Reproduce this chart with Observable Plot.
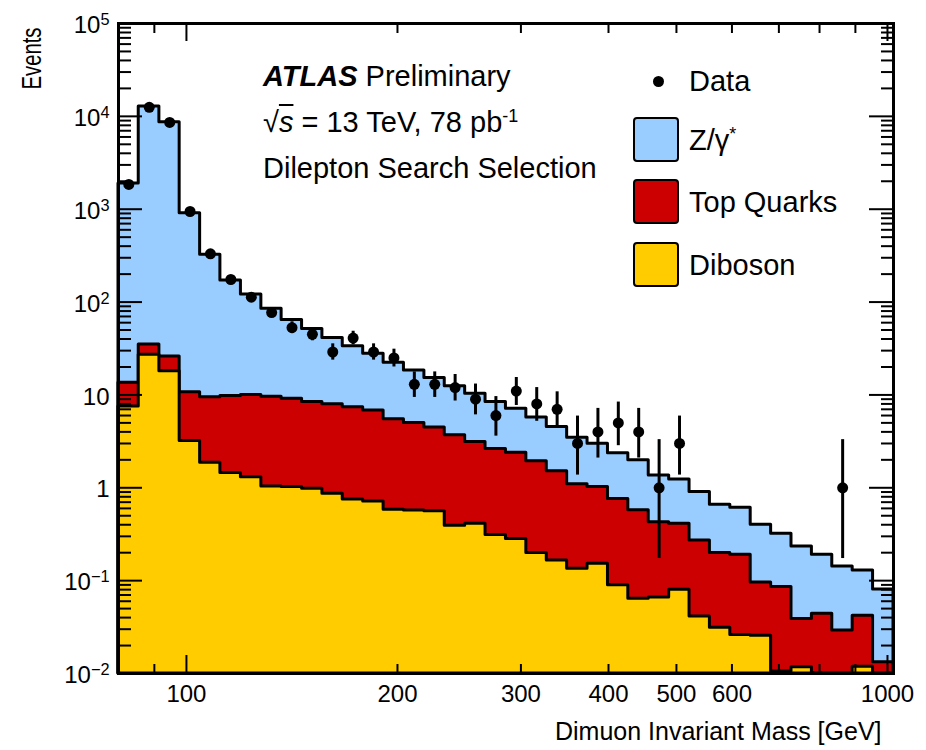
<!DOCTYPE html>
<html><head><meta charset="utf-8">
<script src="https://cdn.jsdelivr.net/npm/d3@7"></script>
<script src="https://cdn.jsdelivr.net/npm/@observablehq/plot@0.6"></script>
<style>
html,body{margin:0;padding:0;background:#fff;overflow:hidden;}
#stage{position:relative;width:926px;height:750px;font-family:"Liberation Sans",Arial,Helvetica,sans-serif;color:#000;}
#stage svg{position:absolute;left:0;top:0;}
.t{position:absolute;white-space:nowrap;font-size:29px;line-height:29px;}
.sup{font-size:0.62em;position:relative;top:-0.55em;}
.box{position:absolute;left:633px;width:42px;height:41px;border:2.5px solid #000;border-radius:4px;}
.dot{position:absolute;width:11px;height:11px;border-radius:50%;background:#000;}
</style></head>
<body><div id="stage">
  <div class="t" style="left:263px;top:62px"><b><i>ATLAS</i></b> Preliminary</div>
  <div class="t" style="left:263px;top:108px">√<span style="text-decoration:overline;font-style:italic">s</span> = 13 TeV, 78 pb<span class="sup">-1</span></div>
  <div class="t" style="left:263px;top:154px">Dilepton Search Selection</div>
  <div class="dot" style="left:653px;top:76px"></div>
  <div class="t" style="left:689px;top:67px">Data</div>
  <div class="box" style="top:117px;background:#99ccff"></div>
  <div class="t" style="left:689px;top:126px">Z/γ<span class="sup">*</span></div>
  <div class="box" style="top:179px;background:#cc0000"></div>
  <div class="t" style="left:689px;top:188px">Top Quarks</div>
  <div class="box" style="top:242px;background:#ffcc00"></div>
  <div class="t" style="left:689px;top:251px">Diboson</div>
</div>
<script>
// bin edges (GeV)
const massEdges = [80, 85.5, 91.5, 97.8, 104.6, 111.8, 119.6, 127.9, 136.7, 146.2, 156.3, 167.1, 178.7, 191.1, 204.3, 218.5, 233.6, 249.8, 267.1, 285.6, 305.4, 326.6, 349.2, 373.4, 399.3, 426.9, 456.5, 488.2, 522.0, 558.1, 596.8, 638.1, 682.4, 729.6, 780.2, 834.2, 892.0, 953.8, 1020];
// expected events per bin, per process
const zGamma = [1876, 12735, 8624, 895, 313, 161, 111, 75, 55, 43, 33, 26, 21, 16.7, 13.4, 10.8, 8.7, 7.2, 5.8, 4.7, 3.8, 3.0, 2.36, 1.96, 1.60, 1.40, 0.93, 0.82, 0.63, 0.46, 0.42, 0.305, 0.235, 0.194, 0.146, 0.113, 0.087, 0.067];
const topQuarks = [6.0, 7.9, 7.9, 7.5, 7.6, 8.3, 8.7, 8.5, 8.1, 7.4, 7.1, 6.6, 6.1, 4.9, 4.4, 3.9, 3.3, 2.7, 2.3, 2.1, 1.73, 1.34, 0.96, 0.87, 0.67, 0.51, 0.36, 0.33, 0.23, 0.167, 0.164, 0.070, 0.075, 0.027, 0.034, 0.019, 0.030, 0.0032];
const diboson = [7.5, 27, 18, 3.2, 1.86, 1.44, 1.30, 1.03, 1.02, 0.975, 0.86, 0.75, 0.71, 0.58, 0.57, 0.56, 0.39, 0.41, 0.31, 0.28, 0.198, 0.165, 0.134, 0.152, 0.089, 0.064, 0.066, 0.080, 0.041, 0.031, 0.026, 0.0255, 0.0105, 0.0117, 0.0100, 0.0100, 0.0118, 0.0100];
// observed data and error bar ends
const dataCounts = [1850, 12500, 8600, 945, 331, 175, 113, 77, 53, 45, 29, 41, 29, 25, 13, 13, 12, 9, 6, 11, 8, 7, 3, 4, 5, 4, 1, 3, null, null, null, null, null, null, null, 1, null, null];
const dataErrLow = [1807, 12388, 8507, 914, 313, 162, 102.6, 68.3, 45.8, 38.3, 23.7, 34.6, 23.7, 20.0, 9.4, 9.4, 8.6, 6.1, 3.6, 7.7, 5.2, 4.4, 1.37, 2.09, 2.84, 2.09, 0.173, 1.37, null, null, null, null, null, null, null, 0.173, null, null];
const dataErrHigh = [1894, 12612, 8693, 976, 350, 188, 124.2, 86.8, 61.3, 52.8, 35.5, 48.5, 35.5, 31.1, 17.7, 17.7, 16.6, 13.1, 9.6, 15.4, 12.0, 10.8, 5.92, 7.16, 8.38, 7.16, 3.30, 5.92, null, null, null, null, null, null, null, 3.30, null, null];
// axes
const xMajorTicks = [100, 1000];
const xMinorTicks = [90, 200, 300, 400, 500, 600, 700, 800, 900];
const xTickLabels = [100, 200, 300, 400, 500, 600, 1000];
const yMajorTicks = [1e-2, 1e-1, 1, 10, 1e2, 1e3, 1e4, 1e5];
const yTickLabels = ["10^−2", "10^−1", "1", "10", "10^2", "10^3", "10^4", "10^5"];
const yMinorTicks = yMajorTicks.slice(0, -1).flatMap(p => [2, 3, 4, 5, 6, 7, 8, 9].map(k => k * p));

const W = 926, H = 750, mL = 118, mR = 33, mT = 23, mB = 77;
const fW = W - mL - mR, fH = H - mT - mB;
const yFloor = 1e-2;

const nb = zGamma.length;
const steps = massEdges.map((e, i) => {
  const j = Math.min(i, nb - 1);
  const dib = diboson[j], top = dib + topQuarks[j], z = top + zGamma[j];
  return {x: e, dib, top, z};
});
const points = dataCounts.map((n, i) => ({
  x: (massEdges[i] + massEdges[i + 1]) / 2, n, lo: dataErrLow[i], hi: dataErrHigh[i]
})).filter(d => d.n != null);
const yLab = yMajorTicks.map((v, i) => ({v, s: yTickLabels[i]}));

const chart = Plot.plot({
  width: W, height: H, marginLeft: mL, marginRight: mR, marginTop: mT, marginBottom: mB,
  style: {fontFamily: '"Liberation Sans", Arial, Helvetica, sans-serif', background: "transparent", overflow: "visible", color: "black"},
  x: {type: "log", domain: [80, 1020], axis: null},
  y: {type: "log", domain: [1e-2, 1e5], axis: null},
  marks: [
    Plot.areaY(steps, {x: "x", y1: yFloor, y2: "z", curve: "step-after", fill: "#99ccff", stroke: "black", strokeWidth: 3}),
    Plot.areaY(steps, {x: "x", y1: yFloor, y2: "top", curve: "step-after", fill: "#cc0000", stroke: "black", strokeWidth: 3}),
    Plot.areaY(steps, {x: "x", y1: yFloor, y2: "dib", curve: "step-after", fill: "#ffcc00", stroke: "black", strokeWidth: 3}),
    // inward ticks on all four sides
    Plot.tickX(xMajorTicks, {x: d => d, insetTop: fH - 18, stroke: "black", strokeWidth: 2}),
    Plot.tickX(xMinorTicks, {x: d => d, insetTop: fH - 9, stroke: "black", strokeWidth: 2}),
    Plot.tickX(xMajorTicks, {x: d => d, insetBottom: fH - 18, stroke: "black", strokeWidth: 2}),
    Plot.tickX(xMinorTicks, {x: d => d, insetBottom: fH - 10, stroke: "black", strokeWidth: 2}),
    Plot.tickY(yMajorTicks, {y: d => d, insetRight: fW - 24, stroke: "black", strokeWidth: 2}),
    Plot.tickY(yMinorTicks, {y: d => d, insetRight: fW - 13, stroke: "black", strokeWidth: 2}),
    Plot.tickY(yMajorTicks, {y: d => d, insetLeft: fW - 24, stroke: "black", strokeWidth: 2}),
    Plot.tickY(yMinorTicks, {y: d => d, insetLeft: fW - 12, stroke: "black", strokeWidth: 2}),
    Plot.frame({stroke: "black", strokeWidth: 3}),
    // data
    Plot.ruleX(points, {x: "x", y1: "lo", y2: "hi", stroke: "black", strokeWidth: 3}),
    Plot.dot(points, {x: "x", y: "n", r: 5.5, fill: "black", stroke: null}),
    // tick labels
    Plot.text(xTickLabels, {x: d => d, text: d => String(d), frameAnchor: "bottom", dy: 21, fontSize: 24, lineAnchor: "middle", fill: "black"}),
    Plot.text(yLab, {y: "v", text: "s", frameAnchor: "left", dx: -9, dy: 2, textAnchor: "end", fontSize: 24, lineAnchor: "middle", fill: "black"}),
    // axis titles
    Plot.text(["Events"], {text: d => d, frameAnchor: "top-left", rotate: -90, textAnchor: "end", lineAnchor: "middle", dx: -86, dy: 4, fontSize: 27, fill: "black"}),
    Plot.text(["Dimuon Invariant Mass [GeV]"], {text: d => d, frameAnchor: "bottom-right", textAnchor: "end", lineAnchor: "middle", dx: -12, dy: 58, fontSize: 25, fill: "black"})
  ]
});
chart.querySelectorAll("text").forEach(t => {
  const s = t.textContent;
  // render "10^k" tick labels with a raised exponent
  const k = s.indexOf("^");
  if (k >= 0) {
    t.textContent = s.slice(0, k);
    const sup = document.createElementNS("http://www.w3.org/2000/svg", "tspan");
    sup.setAttribute("dy", "-0.5em");
    sup.setAttribute("font-size", "0.68em");
    sup.textContent = s.slice(k + 1);
    t.appendChild(sup);
  }
  // the y title is set in a condensed face in the reference
  if (s === "Events") t.setAttribute("transform", (t.getAttribute("transform") || "") + " scale(0.75,1)");
});
document.getElementById("stage").prepend(chart);
</script>
</body></html>
